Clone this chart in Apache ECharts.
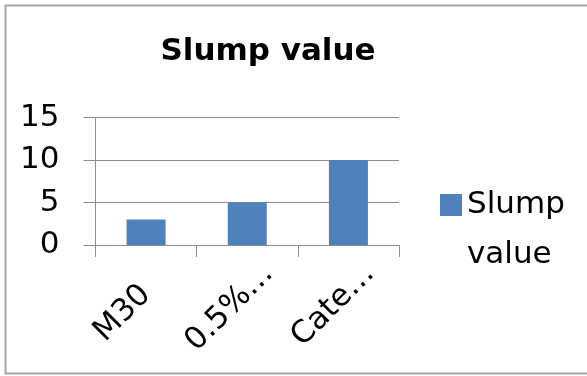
<!DOCTYPE html>
<html>
<head>
<meta charset="utf-8">
<style>
  html, body { margin: 0; padding: 0; background: #fff; }
  #chart { width: 587px; height: 376px; }
</style>
<script src="https://cdn.jsdelivr.net/npm/echarts@6/dist/echarts.min.js"></script>
</head>
<body>
<div id="chart"></div>
<script>
// Slump test results per mix
const categories = ['M30', '0.5%…', 'Cate…'];
const slumpValues = [3, 5, 10];
const yTicks = { min: 0, max: 15, interval: 5 };
const seriesName = 'Slump value';

const FONT = 'DejaVu Sans';
const AXIS_GRAY = '#8C8C8C';

// truncated names sit a little further along their slant than the short one
const labelPadding = [[0, 0, 0, 0], [6, -30, 0, 0], [6, -30, 0, 0]];

const chart = echarts.init(document.getElementById('chart'), null, { renderer: 'canvas' });
chart.setOption({
  animation: false,
  backgroundColor: '#fff',
  graphic: [{
    type: 'rect',
    shape: { x: 5.5, y: 5.5, width: 620, height: 368 },
    style: { fill: 'none', stroke: '#A6A6A6', lineWidth: 2 },
    silent: true
  }],
  title: {
    text: 'Slump value',
    left: 263,
    top: 31,
    textAlign: 'center',
    textStyle: { fontFamily: FONT, fontWeight: 'bold', fontSize: 31, color: '#000' }
  },
  legend: {
    left: 440,
    top: 130,
    padding: 0,
    orient: 'vertical',
    itemWidth: 22,
    itemHeight: 22,
    itemGap: 4,
    icon: 'rect',
    // a blank leading line keeps the swatch level with the first word
    formatter: name => '\n' + name.replace(' ', '\n'),
    textStyle: { fontFamily: FONT, fontSize: 31, color: '#000', lineHeight: 50 }
  },
  grid: {
    left: 95.5, right: 188, top: 117.5, bottom: 131,
    containLabel: false,
    outerBoundsMode: 'none'
  },
  xAxis: {
    type: 'category',
    data: categories.map((c, i) => ({ value: c, textStyle: { padding: labelPadding[i] } })),
    axisLine: { show: true, lineStyle: { color: AXIS_GRAY, width: 1 } },
    axisTick: { show: true, length: 12, inside: false, lineStyle: { color: AXIS_GRAY } },
    axisLabel: { rotate: 45, margin: 45, fontFamily: FONT, fontSize: 31, color: '#000', interval: 0 },
    splitLine: { show: false }
  },
  yAxis: {
    type: 'value',
    min: yTicks.min,
    max: yTicks.max,
    interval: yTicks.interval,
    axisLine: { show: true, lineStyle: { color: AXIS_GRAY, width: 1 } },
    axisTick: { show: true, length: 12, inside: false, lineStyle: { color: AXIS_GRAY } },
    axisLabel: { margin: 36, fontFamily: FONT, fontSize: 31, color: '#000' },
    splitLine: { show: true, lineStyle: { color: AXIS_GRAY, width: 1 } }
  },
  series: [{
    name: seriesName,
    type: 'bar',
    data: slumpValues,
    barWidth: 39,
    itemStyle: { color: '#4F81BD' }
  }]
});
</script>
</body>
</html>
